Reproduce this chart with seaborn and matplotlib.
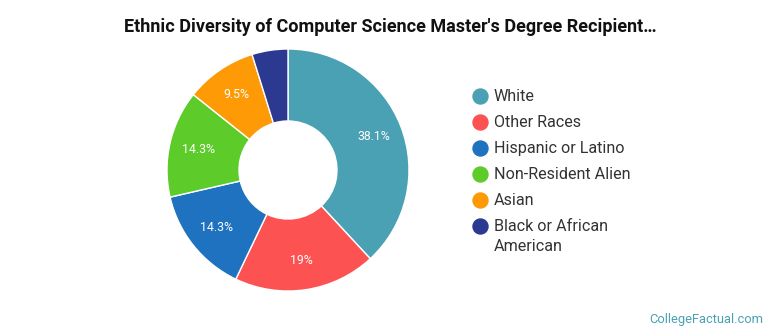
import matplotlib
matplotlib.use("Agg")
import numpy as np
import matplotlib.pyplot as plt
import seaborn as sns

# data
groups = ["White", "Other Races", "Hispanic or Latino", "Non-Resident Alien",
          "Asian", "Black or African\nAmerican"]
shares = [38.1, 19.0, 14.3, 14.3, 9.5, 4.8]
pct_labels = ["38.1%", "19%", "14.3%", "14.3%", "9.5%", ""]
colours = sns.color_palette(["#4aa1b3", "#fd5252", "#1f72bf", "#5dcb2a", "#fd9a06", "#2b3990"])

sns.set_style("white")
plt.rcParams["font.family"] = ["Roboto", "DejaVu Sans"]

W, H = 770, 335
fig = plt.figure(figsize=(W / 100, H / 100), dpi=100)
R = 121
cx, cy = 288, 170
ax = fig.add_axes([(cx - R) / W, (H - cy - R) / H, 2 * R / W, 2 * R / H])

wedges, _ = ax.pie(shares, colors=colours, startangle=90, counterclock=False,
                   radius=1.0, wedgeprops=dict(width=0.595, edgecolor="white", linewidth=1))
for w, lab in zip(wedges, pct_labels):
    ang = np.deg2rad((w.theta1 + w.theta2) / 2)
    ax.text(0.76 * np.cos(ang), 0.76 * np.sin(ang), lab, ha="center", va="center",
            color="white", fontsize=8.8)
ax.set_aspect("equal")
ax.set_xlim(-1, 1)
ax.set_ylim(-1, 1)
ax.axis("off")

fig.text(390 / W, 1 - 27 / H, "Ethnic Diversity of Computer Science Master's Degree Recipient\u2026",
         ha="center", va="center", fontsize=13, fontweight="bold", color="#111111")

# legend drawn by hand so the marker sits on the first line of a wrapped label
lax = fig.add_axes([0, 0, 1, 1], facecolor="none")
lax.set_xlim(0, W)
lax.set_ylim(H, 0)
lax.axis("off")
y0, step = 96, 26
for i, (c, g) in enumerate(zip(colours, groups)):
    y = y0 + i * step
    lax.plot(480, y, "o", markersize=10.8, color=c)
    lax.text(494, y - 7, g, ha="left", va="top", fontsize=11.6, color="#333333",
             linespacing=1.42)

fig.text(1 - 7 / W, 1 - 320 / H, "CollegeFactual.com", ha="right", va="center",
         fontsize=9.3, color="#4aa1b3")

fig.savefig("out.png", dpi=100, facecolor="white")
